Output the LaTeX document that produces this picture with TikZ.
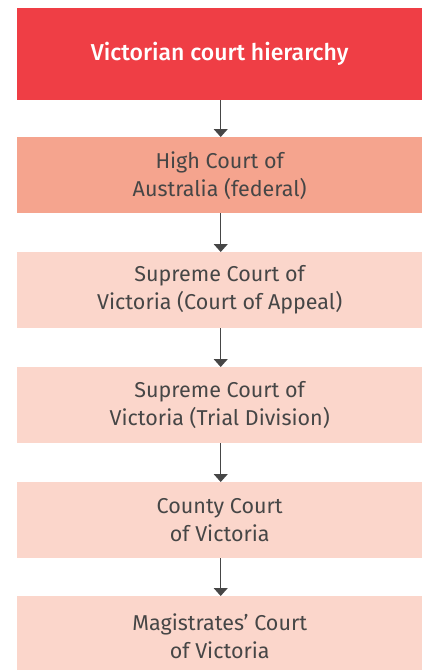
\documentclass[tikz,border=0pt]{standalone}
\usepackage{fontspec}
\setmainfont{Fira Sans}
\usetikzlibrary{arrows.meta}
\definecolor{topred}{RGB}{239,62,69}
\definecolor{midsalmon}{RGB}{245,164,142}
\definecolor{lightpink}{RGB}{251,214,203}
\definecolor{inkgray}{RGB}{70,70,70}
\begin{document}
\begin{tikzpicture}[x=1pt,y=-1pt,
  level/.style={minimum width=405pt,minimum height=76pt,inner sep=0pt,
    anchor=north west,align=center,text=inkgray,
    font=\fontsize{21.5}{28}\selectfont},
  titlebox/.style={level,fill=topred,minimum height=92pt,text=white,
    font=\fontsize{23}{28}\selectfont\fontspec{Fira Sans Medium}},
  link/.style={draw=inkgray,line width=1.2pt,
    -{Triangle[length=8pt,width=14pt]}}]
  \useasboundingbox (0,0) rectangle (422,670);
  \node[titlebox] (t) at (17,8) {Victorian court hierarchy};
  \node[level,fill=midsalmon] (h) at (17,137) {High Court of\\Australia (federal)};
  \node[level,fill=lightpink] (sa) at (17,252) {Supreme Court of\\Victoria (Court of Appeal)};
  \node[level,fill=lightpink] (st) at (17,367) {Supreme Court of\\Victoria (Trial Division)};
  \node[level,fill=lightpink] (c) at (17,482) {County Court\\of Victoria};
  \node[level,fill=lightpink,minimum height=80pt] (m) at (17,596) {Magistrates' Court\\of Victoria};
  \foreach \a/\b in {t/h,h/sa,sa/st,st/c,c/m}
    \draw[link] ([xshift=1pt]\a.south) -- ([xshift=1pt]\b.north);
\end{tikzpicture}
\end{document}
